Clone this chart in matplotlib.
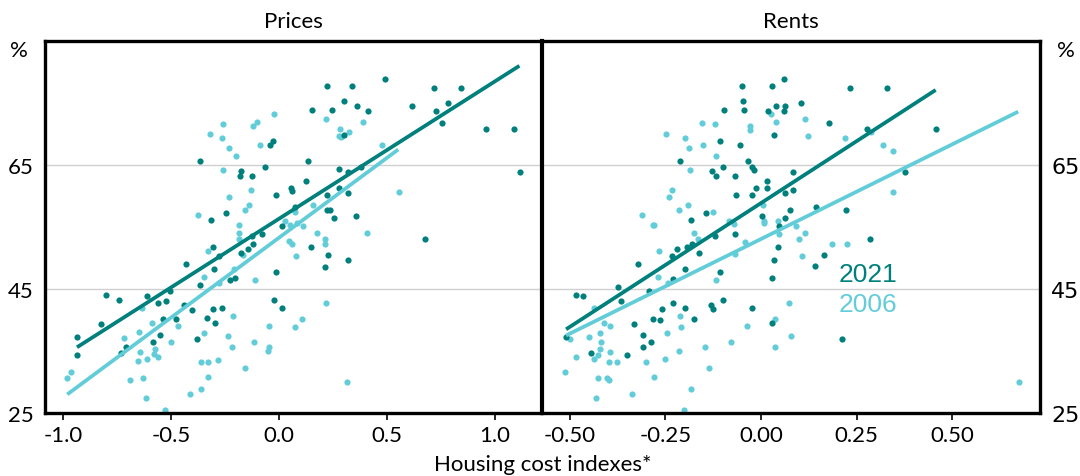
import numpy as np
import matplotlib
matplotlib.use("Agg")
import matplotlib.pyplot as plt

# Prices panel, 2021 (dark) and 2006 (light)
prices_21_x = [-0.364, -0.315, -0.245, -0.182, -0.174, -0.125, -0.066, -0.042, -0.029, -0.014,
               0.054, 0.062, 0.014, 0.221, 0.336, 0.491, 0.302, 0.151, 0.244, 0.363,
               0.413, 0.301, 0.617, 0.716, 0.844, 0.725, 0.784, 0.755, 0.958, 1.087,
               1.116, 0.134, 0.279, 0.321, 0.381, 0.125, 0.221, 0.279, 0.318, 0.076,
               0.221, 0.236, 0.253, 0.356, -0.935, -0.935, -0.826, -0.800, -0.739, -0.710,
               -0.731, -0.613, -0.559, -0.523, -0.505, -0.538, -0.585, -0.549, -0.477, -0.441,
               -0.404, -0.431, -0.381, -0.333, -0.307, -0.295, -0.265, -0.364, -0.307, -0.302,
               -0.227, -0.204, -0.177, -0.144, -0.122, -0.077, -0.015, -0.023, 0.015, 0.676,
               0.147, 0.225, 0.213, 0.321, -0.126, -0.278]
prices_21_y = [65.6, 56.1, 57.2, 63.3, 64.0, 63.2, 64.7, 68.3, 68.9, 60.2,
               61.3, 60.8, 55.2, 77.8, 77.7, 78.9, 75.4, 73.8, 73.8, 74.5,
               73.7, 69.8, 74.5, 77.5, 77.5, 73.7, 75.0, 71.7, 70.8, 70.8,
               63.9, 65.6, 64.3, 63.8, 64.6, 62.4, 60.1, 61.3, 60.5, 58.3,
               57.8, 57.8, 56.4, 56.8, 37.2, 34.3, 39.3, 44.1, 43.3, 35.7,
               34.6, 43.8, 42.8, 43.0, 44.6, 40.2, 36.4, 37.6, 40.1, 42.4,
               41.6, 49.1, 37.0, 40.3, 41.8, 39.5, 42.0, 45.7, 51.8, 48.2,
               46.5, 46.7, 50.8, 51.4, 52.2, 53.9, 47.8, 43.3, 42.0, 53.1,
               51.8, 50.5, 48.6, 49.6, 53.6, 50.3]

prices_06_x = [-0.022, -0.261, -0.318, -0.262, -0.231, -0.200, -0.119, -0.102, -0.088, -0.261,
               -0.130, -0.233, -0.140, -0.157, -0.376, -0.185, 0.218, 0.390, 0.284, 0.324,
               0.279, 0.287, 0.477, 0.557, 0.156, 0.074, 0.052, 0.026, 0.082, 0.113,
               -0.980, -0.963, -0.719, -0.647, -0.690, -0.631, -0.644, -0.654, -0.611, -0.589,
               -0.575, -0.579, -0.559, -0.616, -0.529, -0.499, -0.469, -0.412, -0.361, -0.330,
               -0.361, -0.329, -0.284, -0.347, -0.238, -0.219, -0.214, -0.159, -0.117, -0.048,
               -0.048, -0.052, 0.075, -0.110, -0.329, -0.346, -0.185, -0.185, -0.168, -0.207,
               -0.279, 0.048, 0.059, 0.079, -0.636, 0.409, 0.176, 0.213, 0.213, 0.219,
               0.106, 0.313]
prices_06_y = [73.3, 71.6, 70.0, 69.4, 67.7, 66.4, 71.3, 71.9, 68.3, 64.2,
               60.9, 59.8, 58.6, 57.7, 57.0, 55.4, 72.5, 71.9, 70.8, 70.3,
               69.7, 69.5, 68.3, 60.7, 58.6, 57.5, 55.4, 56.0, 55.6, 55.2,
               30.7, 31.6, 37.1, 38.0, 30.4, 30.6, 34.8, 33.4, 33.7, 39.5,
               35.4, 34.5, 34.0, 27.5, 25.5, 36.5, 39.1, 28.1, 33.3, 33.3,
               28.8, 30.8, 33.6, 37.9, 37.4, 35.6, 40.6, 32.3, 36.4, 39.0,
               35.7, 35.0, 38.9, 46.4, 51.1, 47.0, 54.1, 53.1, 50.5, 48.3,
               45.9, 52.7, 52.3, 50.4, 41.9, 54.0, 54.0, 53.0, 52.2, 42.7,
               40.1, 30.0]

# Rents panel
rents_21_x = [-0.051, -0.046, -0.045, -0.098, -0.108, -0.054, -0.211, -0.129, -0.118, -0.099,
              -0.033, -0.024, -0.018, -0.068, 0.029, 0.061, 0.038, 0.064, 0.019, 0.059,
              0.035, 0.105, 0.085, 0.016, 0.015, -0.013, -0.024, -0.065, 0.062, 0.085,
              0.075, -0.145, -0.183, 0.003, 0.064, 0.048, 0.234, 0.330, 0.177, 0.277,
              0.459, 0.376, 0.144, 0.223, -0.484, -0.466, -0.510, -0.446, -0.351, -0.373,
              -0.367, -0.323, -0.331, -0.310, -0.308, -0.287, -0.292, -0.283, -0.263, -0.258,
              -0.230, -0.229, -0.234, -0.220, -0.200, -0.198, -0.175, -0.194, -0.181, -0.162,
              -0.131, -0.126, -0.099, -0.107, -0.120, -0.067, -0.024, 0.028, 0.035, 0.045,
              0.028, 0.285, 0.164, 0.141, 0.211]
rents_21_y = [77.8, 75.4, 73.8, 73.8, 68.9, 68.3, 65.6, 64.1, 63.3, 64.7,
              65.6, 64.6, 64.2, 63.2, 77.7, 78.9, 74.5, 74.5, 73.7, 73.7,
              69.8, 75.0, 63.8, 62.4, 61.3, 61.3, 60.2, 60.1, 60.5, 60.9,
              57.7, 57.2, 56.1, 56.8, 56.4, 55.2, 77.5, 77.5, 71.7, 70.8,
              70.8, 63.9, 58.2, 57.8, 44.1, 43.8, 37.2, 34.6, 34.3, 45.3,
              43.0, 49.1, 39.3, 37.6, 35.7, 36.4, 44.6, 40.1, 40.0, 41.8,
              42.8, 46.6, 50.3, 51.4, 48.2, 42.0, 40.2, 51.8, 52.2, 50.8,
              42.4, 41.7, 43.3, 47.8, 53.6, 53.9, 42.0, 46.7, 49.7, 51.8,
              39.5, 53.1, 50.5, 48.7, 37.0]

rents_06_x = [-0.248, -0.154, -0.120, -0.198, -0.188, -0.153, -0.117, -0.030, -0.029, 0.026,
              0.038, -0.186, -0.234, -0.240, -0.192, -0.214, -0.126, -0.312, -0.282, -0.085,
              -0.070, 0.005, 0.007, 0.007, 0.045, 0.114, 0.124, 0.219, 0.289, 0.318,
              0.345, 0.345, 0.091, -0.512, -0.500, -0.483, -0.438, -0.449, -0.421, -0.419,
              -0.420, -0.411, -0.395, -0.436, -0.427, -0.395, -0.399, -0.377, -0.427, -0.403,
              -0.398, -0.433, -0.338, -0.301, -0.279, -0.252, -0.246, -0.215, -0.212, -0.209,
              -0.270, -0.268, -0.281, -0.175, -0.165, -0.244, -0.147, -0.135, -0.182, -0.201,
              -0.119, -0.078, -0.067, -0.041, -0.037, 0.037, 0.037, 0.073, 0.078, 0.047,
              0.099, 0.106, 0.116, 0.185, 0.224, 0.674]
rents_06_y = [70.0, 71.8, 71.6, 69.4, 67.7, 68.3, 66.4, 71.3, 70.7, 73.2,
              71.9, 64.2, 60.9, 59.8, 58.6, 57.7, 57.5, 57.0, 55.4, 56.0,
              55.5, 58.6, 56.0, 55.6, 55.9, 72.5, 69.7, 69.4, 70.3, 68.3,
              67.3, 60.7, 55.2, 31.6, 37.0, 34.0, 41.9, 37.2, 37.9, 36.5,
              35.4, 39.5, 39.1, 33.7, 34.4, 34.8, 33.3, 33.3, 30.7, 30.6,
              30.4, 27.5, 28.1, 33.3, 30.8, 33.7, 37.9, 35.0, 40.6, 38.9,
              47.0, 51.1, 55.3, 54.1, 53.1, 45.9, 35.6, 32.3, 28.8, 25.5,
              46.5, 36.4, 50.6, 52.6, 39.0, 40.1, 35.7, 42.7, 37.5, 53.9,
              53.0, 50.4, 54.0, 52.3, 52.2, 30.0]

# fitted lines (end points)
prices_fit_x = {"2021": [-0.935, 1.113], "2006": [-0.980, 0.552]}
prices_fit_y = {"2021": [35.6, 81.0], "2006": [28.0, 67.5]}
rents_fit_x = {"2021": [-0.510, 0.457], "2006": [-0.510, 0.673]}
rents_fit_y = {"2021": [38.5, 77.1], "2006": [37.5, 73.6]}

dark = "#00807C"
light = "#62CDD8"
tick_font = "Lato"
fs = 16

fig = plt.figure(figsize=(10.8, 4.77), dpi=100)
ax1 = fig.add_axes([45/1080, 1 - 414/477, 496/1080, 372/477])
ax2 = fig.add_axes([542/1080, 1 - 414/477, 498/1080, 372/477])

panels = [
    (ax1, prices_21_x, prices_21_y, prices_06_x, prices_06_y, prices_fit_x, prices_fit_y,
     (-1.083, 1.213), [-1.0, -0.5, 0.0, 0.5, 1.0], ["-1.0", "-0.5", "0.0", "0.5", "1.0"], "Prices"),
    (ax2, rents_21_x, rents_21_y, rents_06_x, rents_06_y, rents_fit_x, rents_fit_y,
     (-0.573, 0.730), [-0.5, -0.25, 0.0, 0.25, 0.5], ["-0.50", "-0.25", "0.00", "0.25", "0.50"], "Rents"),
]

for ax, x21, y21, x06, y06, fx, fy, xlim, xt, xtl, title in panels:
    for y in [45, 65]:
        ax.axhline(y, color="#d0d0d0", lw=1, zorder=0)
    ax.scatter(x06, y06, s=20, color=light, linewidths=0, zorder=2)
    ax.scatter(x21, y21, s=20, color=dark, linewidths=0, zorder=3)
    ax.plot(fx["2006"], fy["2006"], color=light, lw=2.7, zorder=4, solid_capstyle="butt")
    ax.plot(fx["2021"], fy["2021"], color=dark, lw=2.7, zorder=5, solid_capstyle="butt")
    ax.set_xlim(*xlim)
    ax.set_ylim(25, 85)
    ax.set_xticks(xt)
    ax.set_xticklabels(xtl, fontsize=fs, family=tick_font)
    ax.set_yticks([25, 45, 65])
    ax.tick_params(axis="x", direction="out", length=5, width=1.2, pad=4)
    ax.tick_params(axis="y", length=0, labelsize=fs, pad=8)
    for lab in ax.get_yticklabels():
        lab.set_family(tick_font)
    for sp in ax.spines.values():
        sp.set_linewidth(2.4)
        sp.set_color("black")
    ax.set_title(title, fontsize=fs, family=tick_font, pad=10)

ax1.spines["right"].set_visible(False)
ax2.spines["left"].set_linewidth(3)
ax2.yaxis.tick_right()
ax2.tick_params(axis="y", length=0, labelsize=fs, pad=8)

ax1.text(-0.035, 0.975, "%", transform=ax1.transAxes, ha="right", va="center",
         fontsize=fs, family=tick_font)
ax2.text(1.035, 0.975, "%", transform=ax2.transAxes, ha="left", va="center",
         fontsize=fs, family=tick_font)

ax2.text(0.204, 47.5, "2021", color=dark, fontsize=19, family="Liberation Sans", va="center")
ax2.text(0.204, 42.5, "2006", color=light, fontsize=19, family="Liberation Sans", va="center")

fig.text(543/1080, 1 - 465/477, "Housing cost indexes*", ha="center", va="center",
         fontsize=fs, family=tick_font)

fig.savefig("out.png", dpi=100)
